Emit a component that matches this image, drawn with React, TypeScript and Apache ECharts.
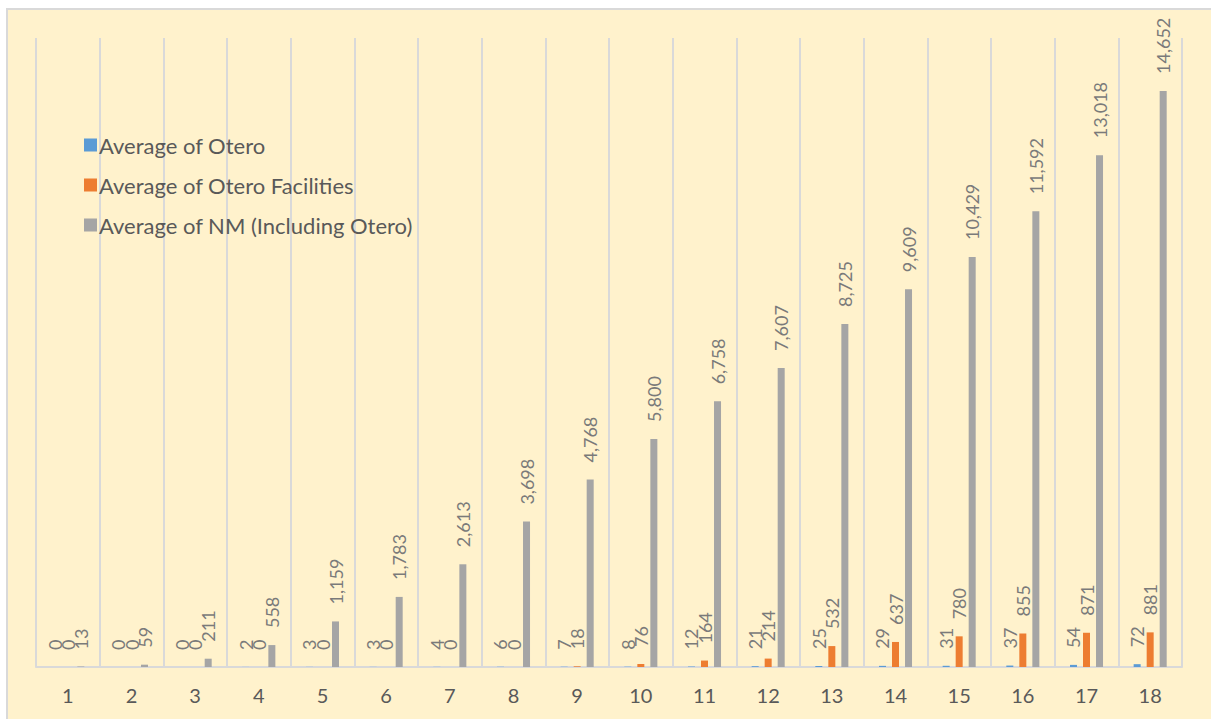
import React, { useEffect, useRef } from "react";
import * as echarts from "echarts";

const categories = ["1", "2", "3", "4", "5", "6", "7", "8", "9", "10", "11", "12", "13", "14", "15", "16", "17", "18"];
const oteroValues = [0, 0, 0, 2, 3, 3, 4, 6, 7, 8, 12, 21, 25, 29, 31, 37, 54, 72];
const facilitiesValues = [0, 0, 0, 0, 0, 0, 0, 0, 18, 76, 164, 214, 532, 637, 780, 855, 871, 881];
const nmValues = [13, 59, 211, 558, 1159, 1783, 2613, 3698, 4768, 5800, 6758, 7607, 8725, 9609, 10429, 11592, 13018, 14652];
const seriesNames = ["Average of Otero", "Average of Otero Facilities", "Average of NM (Including Otero)"];
const seriesColors = ["#5B9BD5", "#ED7D31", "#A5A5A5"];

const FONT = "Lato, 'Noto Sans', sans-serif";

export default function App() {
  const ref = useRef<HTMLDivElement>(null);
  useEffect(() => {
    if (!ref.current) return;
    const chart = echarts.init(ref.current, undefined, { renderer: "svg" });
    const label = {
      show: true,
      position: "top" as const,
      rotate: 90,
      align: "left" as const,
      verticalAlign: "middle" as const,
      distance: 17,
      color: "#7A7A7A",
      fontFamily: FONT,
      fontSize: 18,
      formatter: (p: any) => Number(p.value).toLocaleString("en-US"),
    };
    const data = [oteroValues, facilitiesValues, nmValues];
    chart.setOption({
      animation: false,
      textStyle: { fontFamily: FONT },
      grid: { left: 36, right: 29, top: 38, bottom: 52, containLabel: false },
      legend: {
        orient: "vertical",
        left: 79,
        top: 129,
        itemWidth: 13,
        itemHeight: 13,
        itemGap: 18,
        icon: "rect",
        textStyle: { color: "#595959", fontSize: 22, lineHeight: 22, fontFamily: FONT, padding: [0, 0, 0, -3] },
        data: seriesNames,
      },
      xAxis: {
        type: "category",
        data: categories,
        axisLine: { show: true, lineStyle: { color: "#D9D9D9", width: 2 } },
        axisTick: { show: false },
        axisLabel: { color: "#595959", fontSize: 20, margin: 18, fontFamily: FONT },
        splitLine: { show: true, lineStyle: { color: "#D9D9D9", width: 2 } },
      },
      yAxis: {
        type: "value",
        min: 0,
        max: 16000,
        show: false,
        splitLine: { show: false },
      },
      series: seriesNames.map((name, i) => ({
        name,
        type: "bar",
        data: data[i],
        barWidth: 7,
        barGap: "86%",
        itemStyle: { color: seriesColors[i] },
        label,
      })),
    });
    return () => chart.dispose();
  }, []);
  return (
    <div style={{ position: "fixed", left: 0, top: 0, width: 1211, height: 719, background: "#FFFFFF", overflow: "hidden" }}>
      <div
        style={{
          position: "absolute",
          left: 6,
          top: 8,
          width: 1220,
          height: 730,
          boxSizing: "border-box",
          border: "2px solid #D9D9D9",
          background: "#FFF2CC",
        }}
      />
      <div ref={ref} style={{ position: "absolute", left: 0, top: 0, width: 1211, height: 719 }} />
    </div>
  );
}
